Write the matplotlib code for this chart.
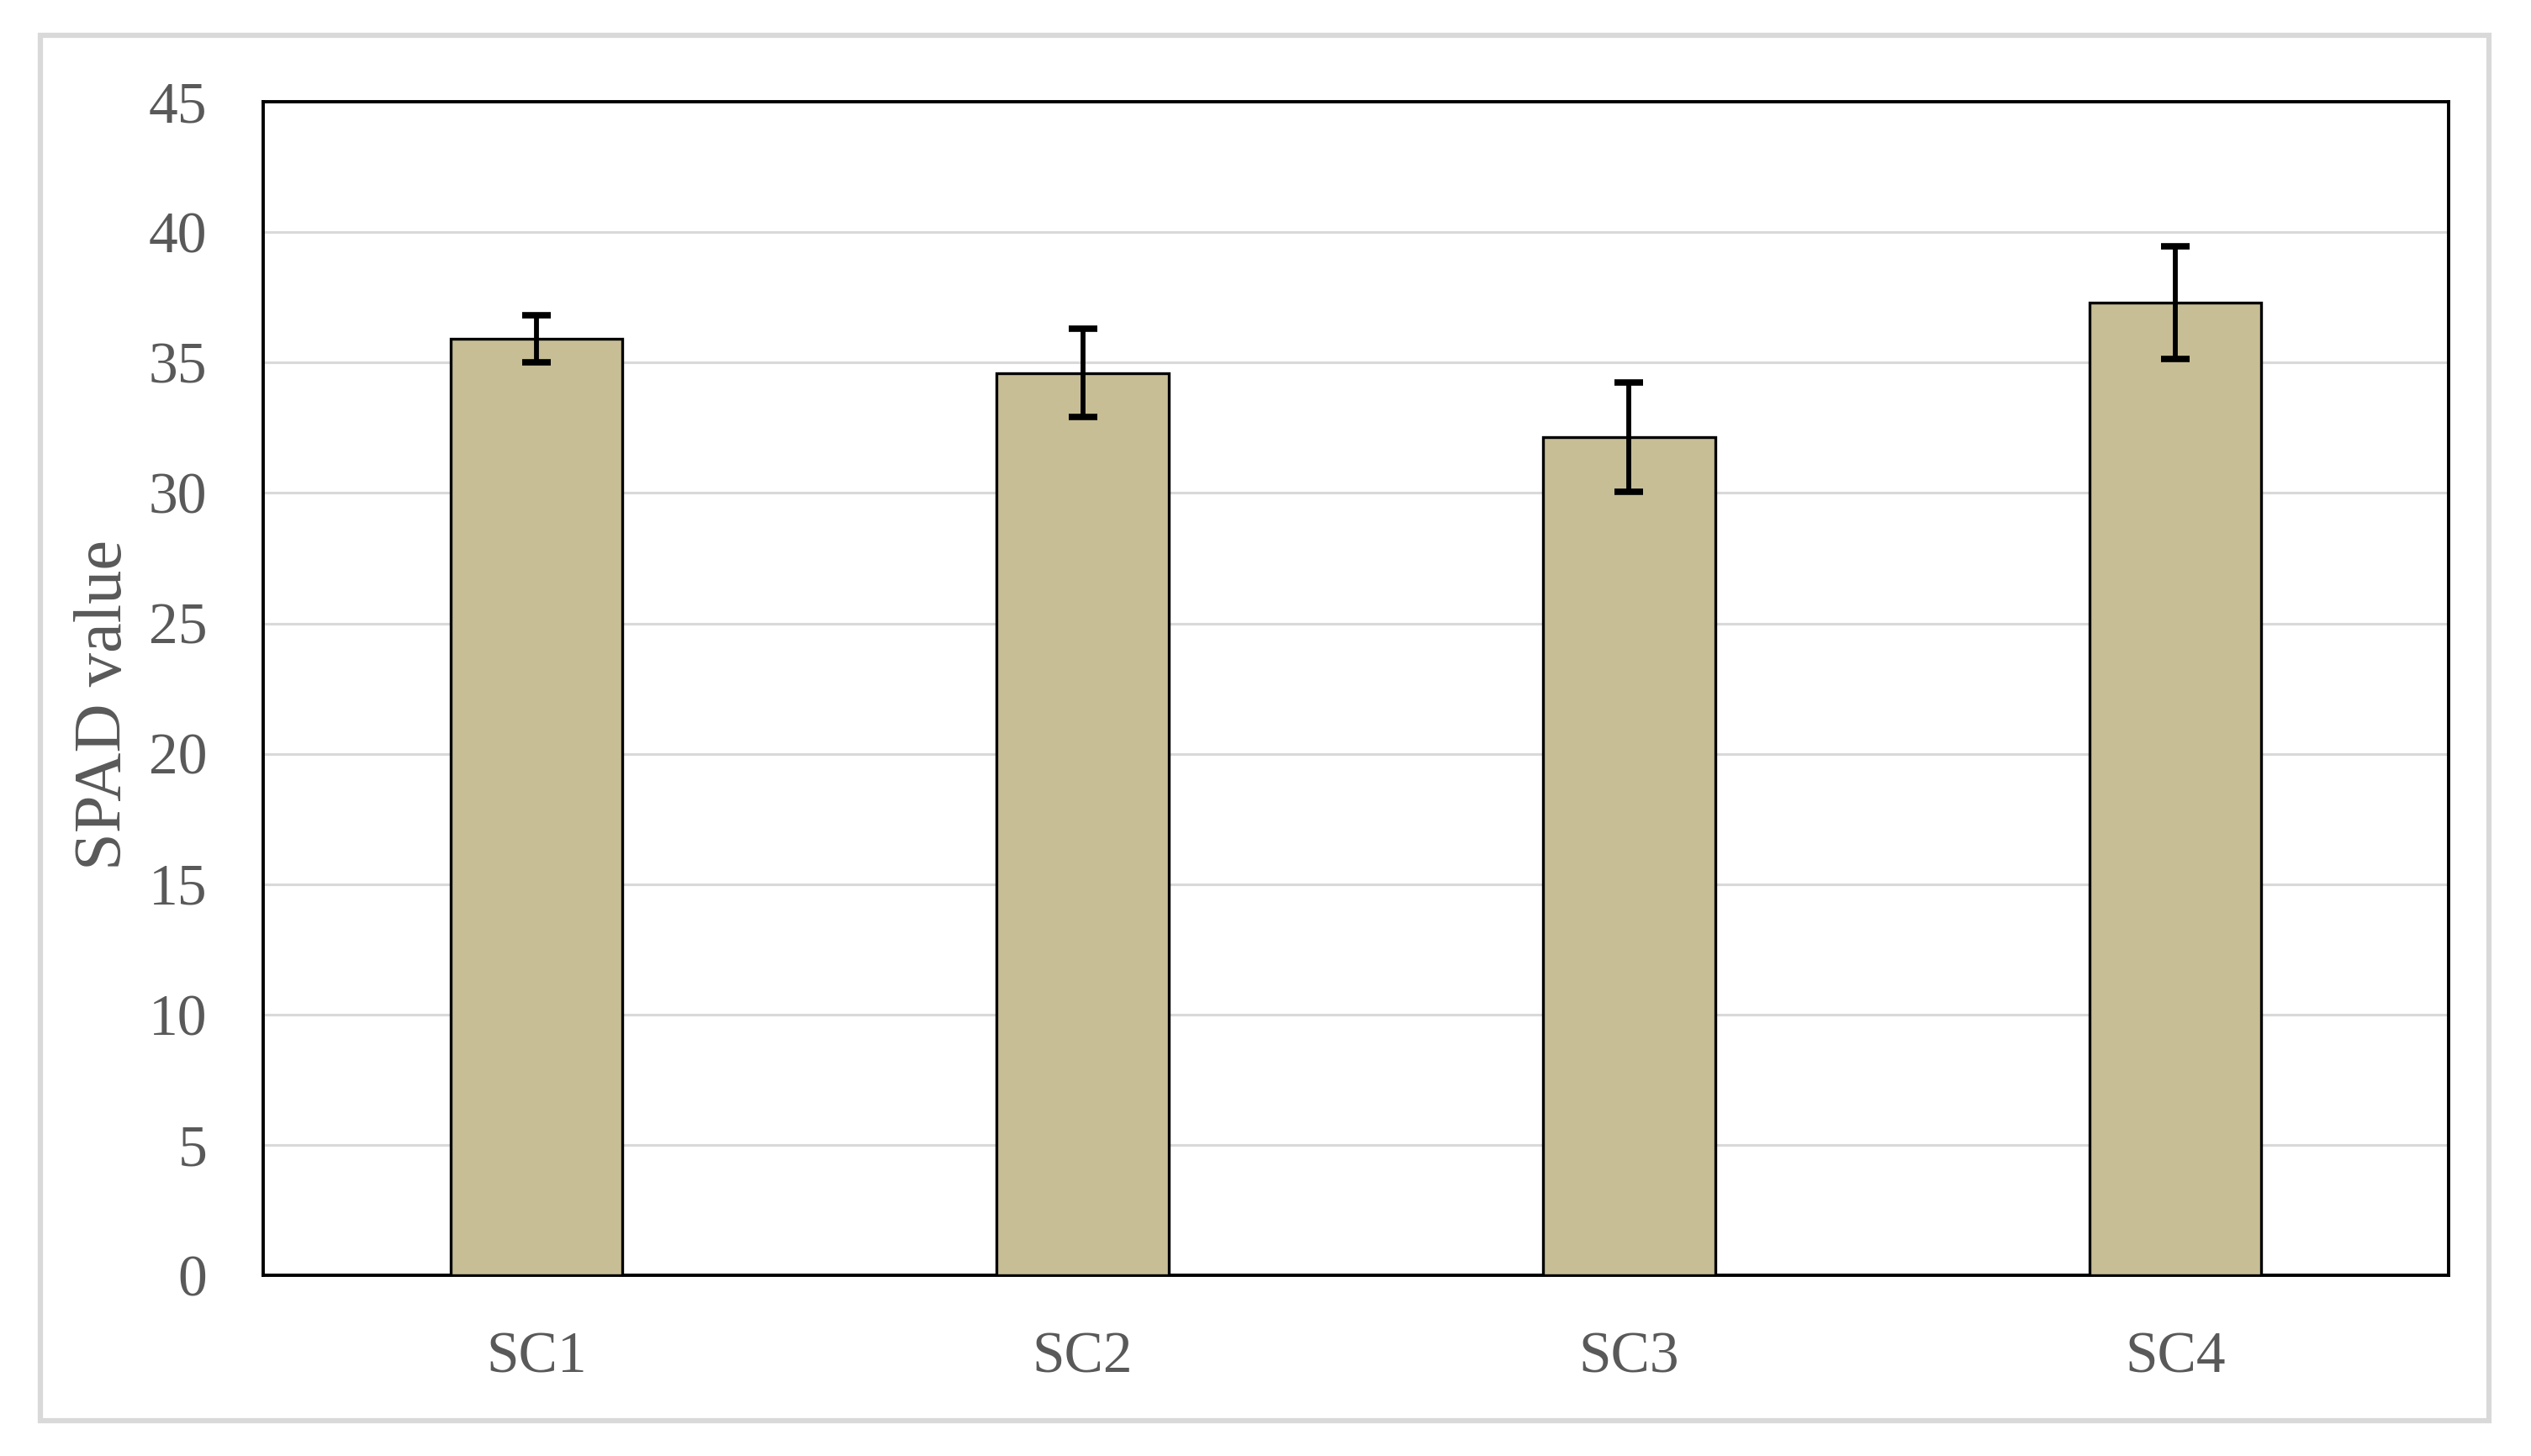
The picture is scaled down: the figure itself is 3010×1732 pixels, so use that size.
import matplotlib
matplotlib.use("Agg")
import matplotlib.pyplot as plt
from matplotlib.patches import Rectangle

categories = ["SC1", "SC2", "SC3", "SC4"]
spad_values = [35.9, 34.6, 32.15, 37.3]
spad_errors = [0.9, 1.7, 2.1, 2.15]
y_ticks = [0, 5, 10, 15, 20, 25, 30, 35, 40, 45]

plt.rcParams['font.family'] = ['Liberation Serif', 'DejaVu Serif']
text_color = "#595959"

fig = plt.figure(figsize=(30.10, 17.32), dpi=100)
ax = fig.add_axes([0.104, 0.1241, 0.8634, 0.806])

x = list(range(len(categories)))
ax.bar(x, spad_values, width=0.315, color="#C7BE96", edgecolor="black",
       linewidth=2.4, zorder=3)
ax.errorbar(x, spad_values, yerr=spad_errors, fmt="none", ecolor="black",
            elinewidth=4.2, capsize=12.5, capthick=5.5, zorder=4)

ax.set_xlim(-0.5, len(categories) - 0.5)
ax.set_ylim(0, 45)
ax.set_yticks(y_ticks)
ax.set_yticklabels([str(t) for t in y_ticks])
ax.set_xticks(x)
ax.set_xticklabels(categories)
ax.tick_params(axis="both", length=0, labelsize=50, labelcolor=text_color)
ax.tick_params(axis="y", pad=48)
ax.tick_params(axis="x", pad=48)

ax.yaxis.grid(True, color="#D9D9D9", linewidth=2.2, zorder=0)
ax.set_axisbelow(True)
for s in ax.spines.values():
    s.set_color("black")
    s.set_linewidth(2.8)

ax.set_ylabel("SPAD value", fontsize=58, color=text_color)
ax.yaxis.set_label_coords(-0.0585, 0.486)

# outer light-grey frame
fig.patches.append(Rectangle((48 / 3010, 1 - 1690 / 1732), (2960 - 48) / 3010,
                             (1690 - 42) / 1732, transform=fig.transFigure,
                             fill=False, edgecolor="#D9D9D9", linewidth=4.5))

fig.savefig("out.png", dpi=100)
